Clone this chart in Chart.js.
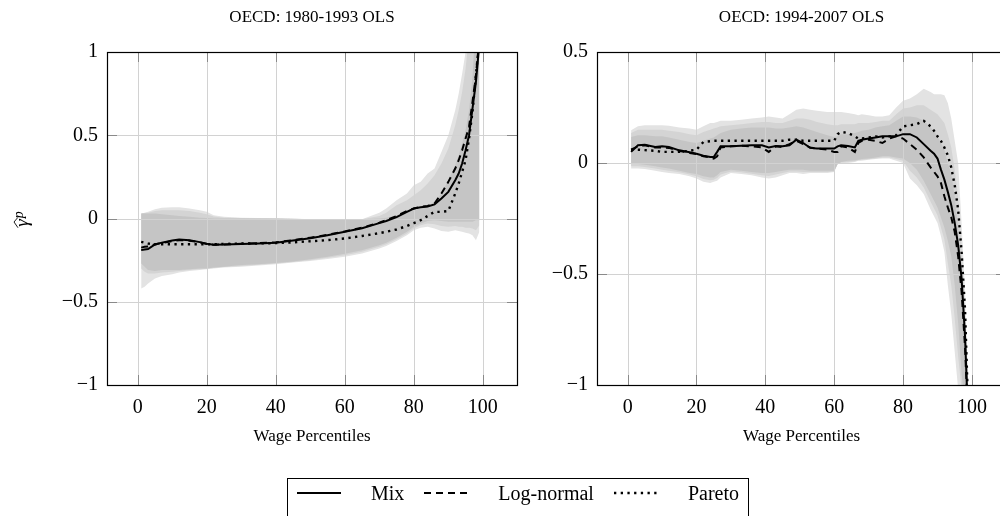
<!DOCTYPE html>
<html>
<head>
<meta charset="utf-8">
<script src="https://cdn.jsdelivr.net/npm/chart.js@4/dist/chart.umd.min.js"></script>
<style>
html,body{margin:0;padding:0;width:1000px;height:516px;overflow:hidden;background:#fff;}
#c1{position:absolute;left:0;top:0;}
#c2{position:absolute;left:545px;top:0;}
#legend{position:absolute;left:287px;top:478px;height:60px;border:1px solid #000;box-sizing:border-box;display:flex;align-items:flex-start;padding:0 9px 0 9px;font-family:"Liberation Serif","Times New Roman",serif;font-size:20px;color:#000;}
#legend svg{margin-top:11px;flex:none;}
#legend span{margin-top:3px;line-height:22px;white-space:nowrap;flex:none;}
</style>
</head>
<body>
<canvas id="c1" width="545" height="516"></canvas>
<canvas id="c2" width="470" height="516"></canvas>
<div id="legend"></div>
<script>
// ---------- data ----------
const seriesNames = ['Mix', 'Log-normal', 'Pareto'];
const titleL = 'OECD: 1980-1993 OLS';
const titleR = 'OECD: 1994-2007 OLS';
const xLabel = 'Wage Percentiles';
const xTicks = [0, 20, 40, 60, 80, 100];
const yTicksL = [-1, -0.5, 0, 0.5, 1];
const yTicksR = [-1, -0.5, 0, 0.5];

// left panel (1980-1993)
const xL = [1,2,3,5,7,10,12,15,18,20,22,25,30,35,40,45,50,55,60,65,70,72,75,78,80,82,84,86,88,90,92,93,94,95,96,97,98,99];
const mixL = [-0.19,-0.186,-0.183,-0.155,-0.145,-0.132,-0.126,-0.13,-0.142,-0.152,-0.157,-0.156,-0.153,-0.15,-0.145,-0.132,-0.118,-0.1,-0.08,-0.058,-0.028,-0.015,0.008,0.04,0.06,0.068,0.072,0.085,0.12,0.16,0.23,0.27,0.33,0.41,0.5,0.66,0.82,1.05];
const lognL = [-0.175,-0.17,-0.168,-0.155,-0.148,-0.135,-0.13,-0.133,-0.143,-0.153,-0.157,-0.156,-0.152,-0.148,-0.143,-0.13,-0.115,-0.098,-0.078,-0.055,-0.025,-0.01,0.015,0.045,0.06,0.07,0.075,0.09,0.15,0.22,0.3,0.35,0.41,0.48,0.55,0.7,0.86,1.08];
const paretoL = [-0.14,-0.145,-0.15,-0.155,-0.155,-0.155,-0.155,-0.155,-0.155,-0.155,-0.155,-0.153,-0.15,-0.15,-0.148,-0.143,-0.137,-0.13,-0.12,-0.105,-0.088,-0.08,-0.066,-0.045,-0.028,-0.01,0.015,0.04,0.04,0.045,0.15,0.21,0.28,0.35,0.48,0.64,0.86,1.08];
const outerHiL = [0.03,0.035,0.04,0.055,0.065,0.068,0.068,0.06,0.05,0.04,0.02,0.01,0.005,0.003,0.0,0.0,-0.005,-0.005,-0.005,-0.005,0.035,0.06,0.11,0.15,0.2,0.22,0.27,0.3,0.4,0.5,0.65,0.75,0.87,1.0,1.5,1.5,1.5,1.5];
const outerLoL = [-0.42,-0.41,-0.39,-0.36,-0.345,-0.335,-0.325,-0.315,-0.31,-0.305,-0.3,-0.295,-0.29,-0.282,-0.275,-0.265,-0.255,-0.243,-0.23,-0.21,-0.18,-0.165,-0.135,-0.1,-0.07,-0.055,-0.05,-0.06,-0.075,-0.08,-0.07,-0.075,-0.08,-0.085,-0.09,-0.1,-0.13,-0.08];
const midHiL = [0.03,0.033,0.035,0.045,0.05,0.05,0.05,0.045,0.035,0.025,0.012,0.005,0.003,0.0,0.0,-0.002,-0.005,-0.005,-0.005,-0.005,0.015,0.035,0.08,0.11,0.14,0.17,0.21,0.26,0.33,0.42,0.56,0.65,0.76,0.9,1.1,1.5,1.5,1.5];
const midLoL = [-0.3,-0.32,-0.33,-0.33,-0.325,-0.32,-0.315,-0.31,-0.305,-0.302,-0.298,-0.292,-0.285,-0.278,-0.27,-0.261,-0.25,-0.236,-0.22,-0.2,-0.17,-0.155,-0.125,-0.09,-0.06,-0.04,-0.03,-0.035,-0.045,-0.05,-0.045,-0.05,-0.05,-0.055,-0.055,-0.06,-0.07,-0.04];
const innerHiL = [0.03,0.03,0.03,0.03,0.025,0.02,0.015,0.01,0.005,0.003,0.0,0.0,0.0,0.0,0.0,-0.003,-0.005,-0.005,-0.005,-0.005,0.0,0.005,0.02,0.04,0.05,0.06,0.075,0.1,0.15,0.23,0.32,0.38,0.45,0.53,0.65,0.85,1.2,1.5];
const innerLoL = [-0.27,-0.29,-0.31,-0.315,-0.31,-0.31,-0.31,-0.305,-0.3,-0.3,-0.295,-0.29,-0.28,-0.275,-0.268,-0.258,-0.245,-0.23,-0.212,-0.19,-0.16,-0.145,-0.115,-0.08,-0.05,-0.03,-0.015,-0.01,-0.015,-0.02,-0.02,-0.02,-0.02,-0.02,-0.02,-0.02,-0.01,-0.01];

// right panel (1994-2007)
const xR = [1,3,5,8,10,12,15,18,20,22,24,25,26,27,30,33,36,39,41,43,45,47,49,51,53,55,58,60,61,62,64,66,67,68,70,72,74,76,78,80,82,84,86,88,89,90,91,92,93,94,95,96,97,98,99];
const mixR = [0.05,0.08,0.082,0.072,0.075,0.072,0.057,0.048,0.042,0.033,0.027,0.027,0.05,0.075,0.076,0.078,0.08,0.08,0.07,0.077,0.075,0.08,0.105,0.09,0.068,0.065,0.065,0.065,0.075,0.08,0.077,0.07,0.1,0.105,0.11,0.115,0.12,0.12,0.12,0.13,0.13,0.115,0.085,0.055,0.042,0.02,-0.03,-0.075,-0.13,-0.19,-0.27,-0.37,-0.52,-0.78,-1.2];
const lognR = [0.06,0.075,0.08,0.07,0.07,0.068,0.055,0.045,0.04,0.03,0.025,0.02,0.03,0.07,0.075,0.078,0.075,0.07,0.05,0.075,0.072,0.085,0.1,0.085,0.07,0.065,0.06,0.05,0.05,0.075,0.07,0.05,0.09,0.1,0.105,0.1,0.09,0.11,0.12,0.11,0.085,0.06,0.025,-0.02,-0.04,-0.06,-0.09,-0.15,-0.2,-0.245,-0.31,-0.42,-0.58,-0.83,-1.2];
const paretoR = [0.06,0.06,0.058,0.055,0.05,0.05,0.05,0.055,0.06,0.095,0.098,0.1,0.1,0.1,0.1,0.1,0.1,0.1,0.1,0.1,0.1,0.105,0.105,0.1,0.1,0.1,0.1,0.1,0.13,0.14,0.135,0.12,0.11,0.11,0.115,0.12,0.115,0.12,0.125,0.165,0.17,0.175,0.19,0.165,0.145,0.12,0.1,0.07,0.035,-0.02,-0.1,-0.21,-0.4,-0.66,-1.15];
const outerHiR = [0.147,0.165,0.17,0.17,0.17,0.168,0.16,0.155,0.15,0.165,0.18,0.18,0.185,0.19,0.19,0.195,0.2,0.205,0.21,0.205,0.2,0.22,0.24,0.245,0.24,0.235,0.23,0.23,0.23,0.23,0.225,0.22,0.215,0.22,0.215,0.21,0.21,0.215,0.25,0.28,0.29,0.31,0.335,0.32,0.31,0.31,0.31,0.305,0.27,0.2,0.1,0.0,-0.27,-0.58,-1.02];
const outerLoR = [-0.025,-0.025,-0.027,-0.035,-0.04,-0.045,-0.05,-0.06,-0.07,-0.085,-0.09,-0.085,-0.08,-0.065,-0.045,-0.05,-0.055,-0.065,-0.07,-0.065,-0.055,-0.045,-0.045,-0.05,-0.045,-0.045,-0.045,-0.04,-0.005,0.0,0.0,0.005,0.01,0.01,0.015,0.018,0.02,0.02,0.01,0.0,-0.07,-0.1,-0.14,-0.21,-0.24,-0.27,-0.33,-0.4,-0.55,-0.68,-0.85,-1.02,-1.1,-1.1,-1.1];
const midHiR = [0.135,0.15,0.15,0.15,0.15,0.145,0.14,0.13,0.125,0.14,0.15,0.155,0.16,0.165,0.17,0.175,0.18,0.185,0.185,0.18,0.18,0.19,0.2,0.2,0.195,0.185,0.175,0.17,0.17,0.175,0.175,0.175,0.18,0.18,0.18,0.185,0.19,0.19,0.22,0.245,0.25,0.26,0.26,0.24,0.23,0.22,0.2,0.18,0.13,0.07,-0.03,-0.15,-0.38,-0.68,-1.03];
const midLoR = [-0.015,-0.015,-0.018,-0.025,-0.03,-0.035,-0.042,-0.052,-0.06,-0.072,-0.078,-0.075,-0.068,-0.052,-0.038,-0.042,-0.048,-0.055,-0.058,-0.052,-0.045,-0.038,-0.038,-0.04,-0.04,-0.04,-0.04,-0.038,-0.005,0.002,0.005,0.008,0.012,0.014,0.017,0.02,0.025,0.025,0.018,0.01,-0.035,-0.065,-0.11,-0.175,-0.205,-0.235,-0.29,-0.345,-0.45,-0.55,-0.7,-0.87,-1.02,-1.1,-1.1];
const innerHiR = [0.117,0.125,0.125,0.12,0.12,0.115,0.105,0.095,0.09,0.1,0.11,0.115,0.125,0.135,0.15,0.155,0.16,0.16,0.16,0.155,0.155,0.16,0.165,0.16,0.15,0.14,0.125,0.117,0.12,0.13,0.13,0.135,0.14,0.145,0.15,0.16,0.165,0.17,0.19,0.21,0.21,0.205,0.19,0.16,0.145,0.12,0.09,0.06,0.0,-0.05,-0.15,-0.3,-0.5,-0.8,-1.05];
const innerLoR = [-0.003,-0.005,-0.008,-0.015,-0.02,-0.025,-0.035,-0.045,-0.05,-0.06,-0.065,-0.065,-0.055,-0.04,-0.03,-0.035,-0.04,-0.045,-0.045,-0.04,-0.035,-0.03,-0.03,-0.03,-0.035,-0.035,-0.035,-0.035,-0.005,0.005,0.01,0.012,0.015,0.018,0.02,0.025,0.03,0.03,0.025,0.02,0.0,-0.03,-0.08,-0.14,-0.17,-0.2,-0.245,-0.29,-0.35,-0.42,-0.55,-0.72,-0.95,-1.1,-1.1];

// ---------- styling ----------
const FONT = '"Liberation Serif","Times New Roman",serif';
const TICK_SIZE = 20, LABEL_SIZE = 17;
const GRID_COLOR = '#d2d2d2';
const BAND_COLORS = ['#e3e3e3', '#d4d4d4', '#c5c5c5'];
const LINE_STYLES = [
  {borderDash: [], borderWidth: 2},
  {borderDash: [7, 5], borderWidth: 2},
  {borderDash: [2.3, 4.4], borderWidth: 2.4}
];

const pts = (xs, ys) => xs.map((x, i) => ({x, y: ys[i]}));
const fmt = v => (v < 0 ? '\u2212' : '') + String(Math.abs(v));

function buildDatasets(xs, bands, lines) {
  const ds = [];
  bands.forEach((b, k) => {
    const lowIdx = ds.length;
    ds.push({data: pts(xs, b[0]), borderWidth: 0, borderColor: 'rgba(0,0,0,0)', pointRadius: 0, fill: false, order: 10 - k});
    ds.push({data: pts(xs, b[1]), borderWidth: 0, borderColor: 'rgba(0,0,0,0)', pointRadius: 0,
      backgroundColor: BAND_COLORS[k], fill: {target: lowIdx, above: BAND_COLORS[k], below: BAND_COLORS[k]}, order: 10 - k});
  });
  lines.forEach((ys, k) => {
    ds.push(Object.assign({label: seriesNames[k], data: pts(xs, ys), borderColor: '#000', pointRadius: 0,
      fill: false, tension: 0, borderCapStyle: 'butt', borderJoinStyle: 'miter', order: k,
      gridBefore: k === lines.length - 1}, LINE_STYLES[k]));
  });
  return ds;
}

const framePlugin = {
  id: 'frame',
  beforeDatasetDraw(chart, args, o) {
    if (!chart.data.datasets[args.index].gridBefore) return;
    const {ctx, chartArea: a, scales: {x, y}} = chart;
    ctx.save();
    ctx.strokeStyle = GRID_COLOR;
    ctx.lineWidth = 1;
    ctx.beginPath();
    o.xTicks.forEach(v => {
      const px = Math.round(x.getPixelForValue(v)) + 0.5;
      ctx.moveTo(px, a.top); ctx.lineTo(px, a.bottom);
    });
    o.yTicks.forEach(v => {
      const py = Math.round(y.getPixelForValue(v)) + 0.5;
      ctx.moveTo(a.left, py); ctx.lineTo(a.right, py);
    });
    ctx.stroke();
    ctx.restore();
  },
  afterDatasetsDraw(chart, args, o) {
    const {ctx, chartArea: a, scales: {x, y}} = chart;
    ctx.save();
    ctx.strokeStyle = '#8a8a8a';
    ctx.lineWidth = 1;
    ctx.beginPath();
    o.xTicks.forEach(v => {
      const px = Math.round(x.getPixelForValue(v)) + 0.5;
      ctx.moveTo(px, a.top); ctx.lineTo(px, a.top + 10);
      ctx.moveTo(px, a.bottom); ctx.lineTo(px, a.bottom - 10);
    });
    o.yTicks.forEach(v => {
      const py = Math.round(y.getPixelForValue(v)) + 0.5;
      ctx.moveTo(a.left, py); ctx.lineTo(a.left + 10, py);
      ctx.moveTo(a.right, py); ctx.lineTo(a.right - 10, py);
    });
    ctx.stroke();
    ctx.strokeStyle = '#000';
    ctx.lineWidth = 1.2;
    ctx.strokeRect(Math.round(a.left) + 0.5, Math.round(a.top) + 0.5, Math.round(a.right - a.left), Math.round(a.bottom - a.top));
    ctx.restore();
  },
  afterDraw(chart, args, o) {
    const {ctx, chartArea: a} = chart;
    const cx = (a.left + a.right) / 2;
    ctx.save();
    ctx.fillStyle = '#000';
    ctx.textAlign = 'center';
    ctx.textBaseline = 'middle';
    ctx.font = LABEL_SIZE + 'px ' + FONT;
    ctx.fillText(o.title, cx, a.top - 34);
    ctx.fillText(xLabel, cx, a.bottom + 52);
    if (o.yLabel) {
      ctx.translate(28, (a.top + a.bottom) / 2 + 1);
      ctx.rotate(-Math.PI / 2);
      ctx.textAlign = 'left';
      ctx.textBaseline = 'alphabetic';
      ctx.font = 'italic 19px ' + FONT;
      const wg = ctx.measureText('\u03b3').width;
      ctx.font = 'italic 14px ' + FONT;
      const wp = ctx.measureText('p').width;
      const x0 = -(wg + wp) / 2;
      ctx.font = 'italic 19px ' + FONT;
      ctx.fillText('\u03b3', x0, 0);
      ctx.font = 'italic 14px ' + FONT;
      ctx.fillText('p', x0 + wg + 1, -5);
      ctx.beginPath();
      ctx.lineWidth = 0.9;
      ctx.strokeStyle = '#000';
      ctx.moveTo(x0 - 1, -10);
      ctx.lineTo(x0 + wg / 2 + 1, -14);
      ctx.lineTo(x0 + wg + 2, -10);
      ctx.stroke();
    }
    ctx.restore();
  }
};

function makeChart(id, xs, bands, lines, yMin, yMax, yTicks, xMin, xMax, yWidth, padRight, title, yLabel) {
  return new Chart(document.getElementById(id), {
    type: 'line',
    data: {datasets: buildDatasets(xs, bands, lines)},
    plugins: [framePlugin],
    options: {
      responsive: false,
      animation: false,
      events: [],
      layout: {padding: {top: 52, left: 0, right: padRight, bottom: 0}},
      plugins: {
        legend: {display: false},
        tooltip: {enabled: false},
        frame: {xTicks, yTicks, title, yLabel}
      },
      scales: {
        x: {
          type: 'linear', min: xMin, max: xMax,
          afterBuildTicks: s => { s.ticks = xTicks.map(v => ({value: v})); },
          afterFit: s => { s.height = 131; },
          grid: {display: false, drawTicks: false},
          border: {display: false},
          ticks: {font: {family: FONT, size: TICK_SIZE}, color: '#000', padding: 11, maxRotation: 0, autoSkip: false, callback: v => fmt(v)}
        },
        y: {
          type: 'linear', min: yMin, max: yMax,
          afterBuildTicks: s => { s.ticks = yTicks.map(v => ({value: v})); },
          afterFit: s => { s.width = yWidth; },
          grid: {display: false, drawTicks: false},
          border: {display: false},
          ticks: {font: {family: FONT, size: TICK_SIZE}, color: '#000', padding: 9, autoSkip: false, callback: v => fmt(v)}
        }
      }
    }
  });
}

makeChart('c1', xL,
  [[outerLoL, outerHiL], [midLoL, midHiL], [innerLoL, innerHiL]],
  [mixL, lognL, paretoL], -1, 1, yTicksL, -8.9, 109.9, 107, 28, titleL, true);
makeChart('c2', xR,
  [[outerLoR, outerHiR], [midLoR, midHiR], [innerLoR, innerHiR]],
  [mixR, lognR, paretoR], -1, 0.5, yTicksR, -8.9, 109.9, 52, 9, titleR, false);

// ---------- legend ----------
const leg = document.getElementById('legend');
seriesNames.forEach((name, k) => {
  const st = LINE_STYLES[k];
  const dash = st.borderDash.length ? ` stroke-dasharray="${st.borderDash.join(' ')}"` : '';
  const last = k === seriesNames.length - 1;
  leg.insertAdjacentHTML('beforeend',
    `<svg width="44" height="6" style="margin-right:30px"><line x1="0" y1="3" x2="44" y2="3" stroke="#000" stroke-width="${st.borderWidth}"${dash}/></svg>` +
    `<span style="margin-right:${last ? 0 : 20}px">${name}</span>`);
});
</script>
</body>
</html>
